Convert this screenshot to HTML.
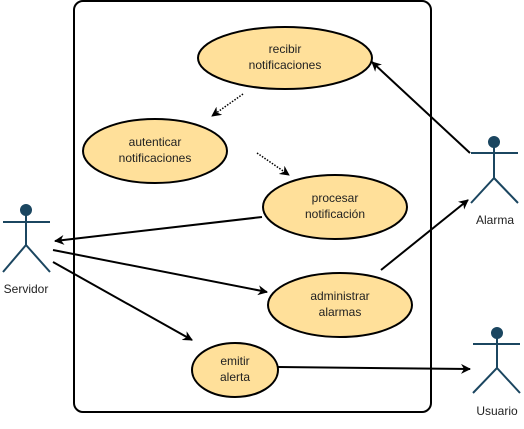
<!DOCTYPE html><html><head><style>body{margin:0;background:#fff}svg text{font-family:"Liberation Sans",sans-serif;font-size:12px;fill:#222;text-anchor:middle}</style></head><body>
<svg width="524" height="424" viewBox="0 0 524 424" xmlns="http://www.w3.org/2000/svg">
<defs><marker id="a" markerWidth="10" markerHeight="10" refX="9" refY="5" orient="auto" markerUnits="userSpaceOnUse"><path d="M0,0 L10,5 L0,10 L3,5z" fill="#000"/></marker></defs>
<rect x="74" y="1" width="357" height="411" rx="9" fill="#fff" stroke="#000" stroke-width="2"/>
<g fill="#ffe09a" stroke="#000" stroke-width="2">
<ellipse cx="285" cy="58" rx="87" ry="31"/>
<ellipse cx="155" cy="151" rx="72" ry="32"/>
<ellipse cx="335" cy="207" rx="72" ry="32"/>
<ellipse cx="340" cy="305" rx="72" ry="32"/>
<ellipse cx="235" cy="370" rx="43" ry="27"/>
</g>
<text x="285" y="53">recibir</text><text x="285" y="69">notificaciones</text>
<text x="155" y="146">autenticar</text><text x="155" y="162">notificaciones</text>
<text x="335" y="202">procesar</text><text x="335" y="218">notificación</text>
<text x="340" y="300">administrar</text><text x="340" y="316">alarmas</text>
<text x="235" y="365">emitir</text><text x="235" y="381">alerta</text>
<g stroke="#000" stroke-width="2" fill="none" marker-end="url(#a)">
<line x1="470" y1="153" x2="372" y2="62"/>
<line x1="262" y1="217" x2="55" y2="241"/>
<line x1="53" y1="250" x2="267" y2="292"/>
<line x1="53" y1="262" x2="192" y2="340"/>
<line x1="381" y1="270" x2="468" y2="200"/>
<line x1="278" y1="367" x2="470" y2="369"/>
</g>
<g stroke="#000" stroke-width="1.5" stroke-dasharray="1.5,1.5" fill="none" marker-end="url(#a)">
<line x1="243" y1="94" x2="212" y2="116"/>
<line x1="257" y1="153" x2="289" y2="175"/>
</g>
<g stroke="#1b4660" stroke-width="2" fill="none">
<circle cx="26" cy="210" r="5" fill="#1b4660"/><path d="M3 222H50M26 215V245L3 272M26 245L50 272"/>
<circle cx="494" cy="142" r="5" fill="#1b4660"/><path d="M471 153H518M494 147V178L471 203M494 178L518 203"/>
<circle cx="497" cy="333" r="5" fill="#1b4660"/><path d="M473 344H520M497 338V368L473 393M497 368L520 393"/>
</g>
<text x="26" y="293">Servidor</text><text x="495" y="224">Alarma</text><text x="497" y="415">Usuario</text>
</svg></body></html>
